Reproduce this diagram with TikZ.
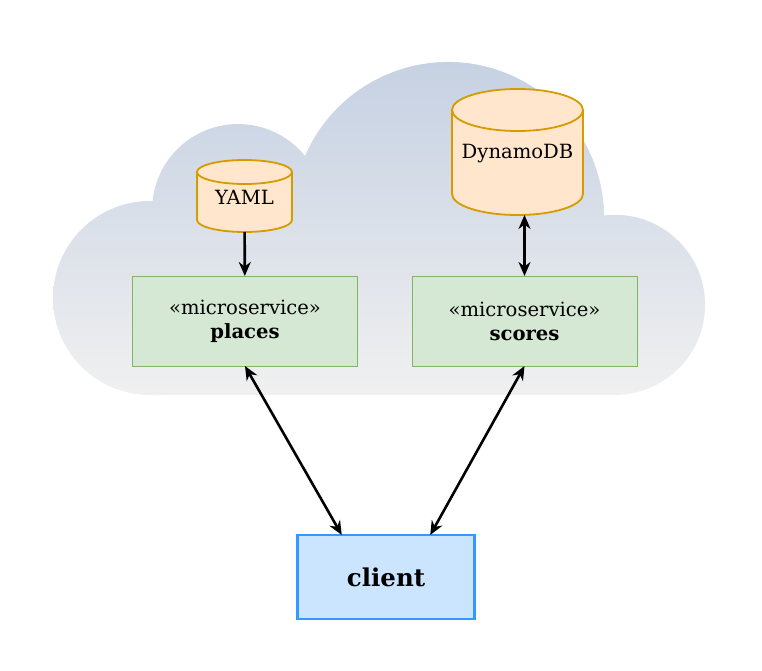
\documentclass[tikz,border=0pt]{standalone}
\usepackage{fontspec}
\setmainfont{DejaVu Serif}
\usetikzlibrary{arrows.meta,positioning,calc}
\definecolor{cloudtop}{RGB}{195,207,226}
\definecolor{cloudbot}{RGB}{240,240,240}
\definecolor{svcfill}{RGB}{213,232,212}
\definecolor{svcline}{RGB}{130,179,102}
\definecolor{dbfill}{RGB}{255,230,204}
\definecolor{dbline}{RGB}{215,155,0}
\definecolor{clifill}{RGB}{204,229,255}
\definecolor{cliline}{RGB}{51,153,255}

\begin{document}
\begin{tikzpicture}[x=1pt,y=-1pt,
    every node/.style={font=\fontsize{19.6}{24}\selectfont,outer sep=0},
    service/.style={draw=svcline,fill=svcfill,line width=0.9,minimum width=225,minimum height=90,align=center},
    store/.style={inner sep=0},
    cyl/.style={draw=dbline,fill=dbfill,line width=1.8},
    link/.style={line width=2.6,arrows={[length=14,width=12]}}]
    \useasboundingbox (0,0) rectangle (762,671);

    % cloud
    \shade[top color=cloudtop,bottom color=cloudbot] (150,395)
        arc[start angle=90,end angle=271.5,radius=97]
        arc[start angle=186,end angle=321.1,radius=86]
        arc[start angle=203.4,end angle=359.1,radius=156]
        arc[start angle=263,end angle=450,radius=90] -- cycle;

    % stores
    \node[store,minimum width=95,minimum height=72] at (244.5,196) (yaml) {};
    \node[store,minimum width=131,minimum height=126] at (517.5,152) (dynamo) {};
    \foreach \c/\r/\e in {yaml/47.5/12,dynamo/65.5/21}
    {%
    \draw[cyl] ($(\c.north west)+(0,\e)$) -- ($(\c.south west)+(0,-\e)$)
        arc[start angle=180,end angle=0,x radius=\r,y radius=\e]
        -- ($(\c.north east)+(0,\e)$)
        arc[start angle=0,end angle=-180,x radius=\r,y radius=\e] -- cycle;
    \draw[cyl,fill=none] ($(\c.north west)+(0,\e)$)
        arc[start angle=180,end angle=0,x radius=\r,y radius=\e];
    }%
    \node at ($(yaml)+(0,1)$) {YAML};
    \node at ($(dynamo)+(0,2)$) {DynamoDB};

    % services
    \node[service] at (245,321) (places) {«microservice»\\\textbf{places}};
    \node[service] at (524.5,321) (scores) {«microservice»\\\textbf{scores}};

    % client
    \node[draw=cliline,fill=clifill,line width=2.4,minimum width=177,minimum height=84,
        font=\fontsize{24.5}{28}\selectfont\bfseries] at (386,577) (client) {client};
    \coordinate (cl) at ($(client.north west)!0.25!(client.north east)$);
    \coordinate (cr) at ($(client.north west)!0.75!(client.north east)$);

    % connections
    \draw[link,-Stealth] (yaml) -- (places);
    \draw[link,Stealth-Stealth] (scores.north) -- (scores.north |- dynamo.south);
    \draw[link,Stealth-Stealth] (places.south) -- (cl);
    \draw[link,Stealth-Stealth] (scores.south) -- (cr);
\end{tikzpicture}
\end{document}
